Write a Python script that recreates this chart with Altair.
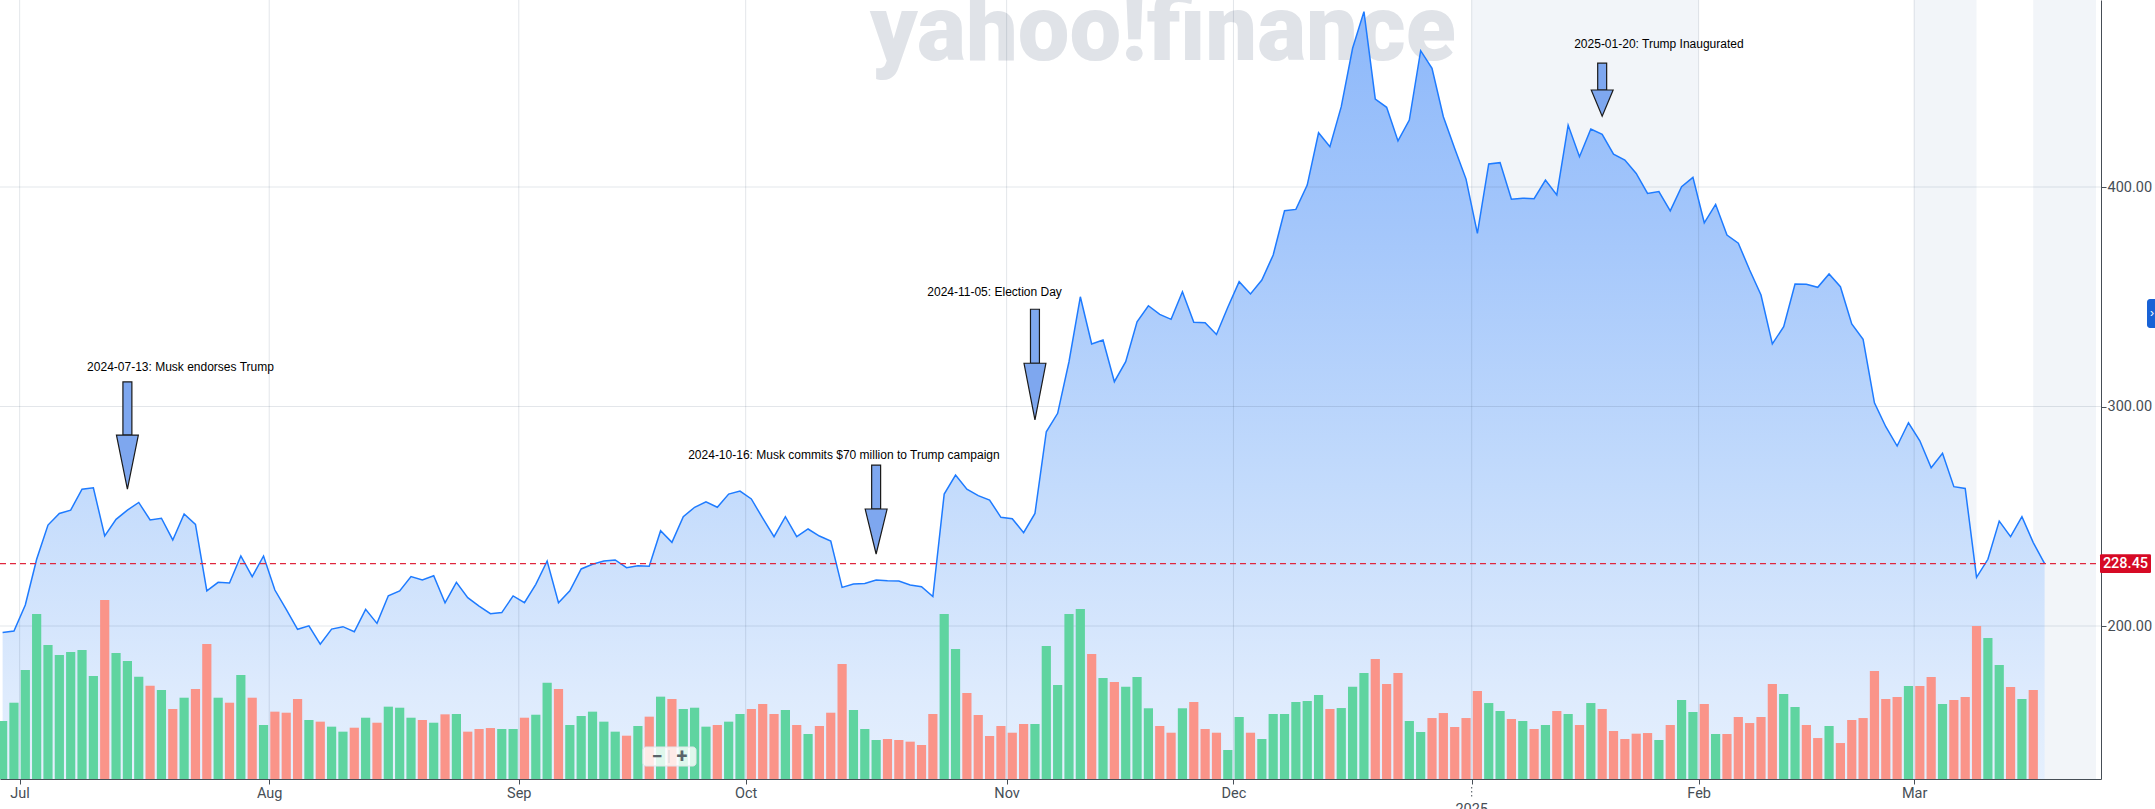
import altair as alt
import pandas as pd

# ---------------- data ----------------
holidays = ["2024-07-04", "2024-09-02", "2024-11-28", "2024-12-25",
            "2025-01-01", "2025-01-09", "2025-01-20", "2025-02-17"]
sessions = [d for d in pd.bdate_range("2024-06-27", "2025-03-18")
            if d.strftime("%Y-%m-%d") not in holidays]

close = [197.0, 197.7, 209.6, 230.4, 246.0, 251.3, 252.8, 262.3, 263.0, 241.0,
         248.6, 252.8, 256.3, 248.3, 249.1, 239.2, 251.0, 246.3, 216.0, 219.9,
         219.6, 231.9, 222.5, 231.9, 216.4, 207.6, 198.5, 200.1, 191.7, 198.6,
         199.7, 197.4, 207.6, 201.2, 213.8, 216.0, 222.5, 221.0, 222.9, 210.6,
         219.9, 212.9, 209.1, 205.6, 206.1, 213.7, 210.6, 219.0, 229.6, 210.6,
         216.0, 226.0, 228.1, 229.6, 230.1, 226.6, 227.5, 227.2, 243.4, 238.1,
         249.8, 254.1, 256.6, 254.1, 260.1, 261.5, 257.9, 249.1, 240.7, 249.8,
         240.7, 244.2, 241.0, 238.7, 217.6, 219.1, 219.4, 221.0, 220.6, 220.5,
         218.7, 217.9, 213.4, 260.1, 268.8, 262.3, 259.4, 257.4, 249.5, 248.9,
         242.5, 251.3, 288.5, 296.9, 320.4, 350.0, 328.5, 330.3, 311.3, 320.4,
         338.6, 345.9, 342.0, 339.7, 352.3, 338.4, 338.2, 332.8, 345.2, 356.9,
         351.3, 357.6, 369.0, 389.2, 389.8, 400.9, 424.7, 418.4, 436.6, 463.2,
         479.9, 440.1, 436.3, 421.0, 430.5, 462.1, 454.1, 432.0, 417.6, 403.6,
         378.9, 410.5, 411.1, 394.4, 394.9, 394.7, 403.2, 396.4, 428.2, 413.8,
         426.4, 424.0, 415.0, 412.3, 406.2, 397.1, 397.9, 389.1, 400.1, 404.4,
         383.7, 392.1, 378.1, 374.4, 362.2, 350.8, 328.5, 336.4, 355.8, 355.7,
         354.3, 360.4, 354.6, 337.6, 330.6, 301.7, 290.8, 282.0, 292.6, 284.4,
         272.1, 278.7, 263.5, 262.7, 222.2, 230.4, 247.8, 240.7, 249.8, 238.0,
         228.45]

volume_m = [71.9, 94.6, 135.2, 204.6, 166.2, 153.8, 157.5, 160.0, 127.7, 222.0,
            156.2, 146.3, 126.9, 115.7, 110.4, 86.8, 100.8, 111.6, 167.4, 100.8,
            94.6, 129.0, 100.8, 67.0, 83.5, 82.2, 99.2, 73.2, 71.1, 64.9,
            58.7, 63.6, 76.0, 69.8, 89.7, 88.4, 76.0, 73.2, 69.8, 80.2,
            80.6, 58.7, 62.0, 63.2, 62.0, 62.0, 76.0, 79.7, 119.4, 111.6,
            67.0, 78.1, 83.5, 71.1, 58.7, 53.7, 65.7, 77.3, 102.1, 99.2,
            86.8, 88.4, 64.9, 67.0, 71.1, 80.6, 86.8, 93.0, 80.6, 85.6,
            67.0, 55.8, 65.7, 82.2, 142.6, 85.6, 62.0, 48.4, 49.6, 48.4,
            46.3, 42.2, 80.6, 204.6, 161.2, 106.6, 79.4, 53.3, 65.7, 57.4,
            68.2, 68.2, 164.9, 116.6, 204.6, 210.8, 155.0, 125.2, 120.3, 114.5,
            126.5, 87.7, 65.7, 57.4, 87.7, 95.5, 62.0, 57.4, 36.0, 76.9,
            57.4, 49.6, 80.6, 80.6, 95.5, 96.7, 104.2, 86.8, 88.0, 114.5,
            131.4, 148.8, 117.8, 131.4, 71.9, 58.3, 75.6, 81.8, 64.5, 75.6,
            109.1, 94.2, 84.3, 74.4, 71.9, 62.0, 67.0, 84.3, 80.6, 67.0,
            94.2, 86.8, 59.5, 49.6, 56.2, 57.0, 48.4, 67.0, 98.0, 83.1,
            93.0, 55.8, 55.8, 76.9, 69.4, 76.9, 117.8, 105.4, 89.3, 67.0,
            50.8, 65.7, 44.6, 73.2, 75.6, 133.9, 99.2, 101.7, 115.3, 115.3,
            126.5, 93.0, 98.0, 101.7, 189.7, 174.8, 141.4, 114.1, 99.2, 110.4]

price_ticks = [200, 300, 400]

event_text = ["2024-07-13: Musk endorses Trump",
              "2024-10-16: Musk commits $70 million to Trump campaign",
              "2024-11-05: Election Day",
              "2025-01-20: Trump Inaugurated"]
event_session = ["2024-07-15", "2024-10-16", "2024-11-05", "2025-01-21"]
arrow_tail = [311.2, 273.3, 344.3, 456.4]
arrow_neck = [287.0, 253.3, 319.7, 444.2]
arrow_tip = [262.4, 232.8, 293.9, 432.3]
label_price = [318.0, 277.9, 352.2, 465.3]
label_shift = [4.68, -2.84, -3.56, 5.0]   # in sessions, relative to the arrow

# shaded background periods (session units)
shade_from = [127.5, 166.5, 177.0]
shade_to = [147.5, 172.0, 182.53]

# ---------------- layout / style ----------------
W, H = 2101, 779
X_MIN, X_MAX = -1.7896, 182.53
P_MIN, P_MAX = 130.3, 485.2
V_MAX = 966
AXIS_COL = "#464e56"
GRID_COL = "rgba(40,60,90,0.13)"
LINE_COL = "#1e7bff"
UP_COL, DOWN_COL = "#5fd4a0", "#fa9489"

offset = 2  # first two sessions are in late June
sess_str = [d.strftime("%Y-%m-%d") for d in sessions]
k_of = {s: i - offset for i, s in enumerate(sess_str)}

price_df = pd.DataFrame({"k": [i - offset for i in range(len(close))], "close": close})
cols = []
for i in range(len(volume_m)):
    up = True if i == 0 else close[i] >= close[i - 1]
    cols.append(UP_COL if up else DOWN_COL)
vol_df = pd.DataFrame({"k": [i - offset for i in range(len(volume_m))],
                       "vol": volume_m, "col": cols})

tick_pos, tick_lab = [], []
prev_m = sessions[0].month
for i, d in enumerate(sessions):
    if d.month != prev_m:
        tick_pos.append(i - offset - 0.5)
        tick_lab.append("" if d.month == 1 else d.strftime("%b"))
    prev_m = d.month
year_pos = [p for p, l in zip(tick_pos, tick_lab) if l == ""]
ticks_df = pd.DataFrame({"pos": tick_pos})
year_df = pd.DataFrame({"pos": year_pos, "t": ["2025"] * len(year_pos)})

label_expr = ("[" + ",".join("'%s'" % l for l in tick_lab) + "][indexof([" +
              ",".join(repr(p) for p in tick_pos) + "], datum.value)]")

x_scale = alt.Scale(domain=[X_MIN, X_MAX], nice=False, zero=False)
p_scale = alt.Scale(domain=[P_MIN, P_MAX], nice=False, zero=False)
v_scale = alt.Scale(domain=[0, V_MAX], nice=False)

x_axis = alt.Axis(values=tick_pos, labelExpr=label_expr, grid=False, title=None,
                  domainColor=AXIS_COL, tickColor=AXIS_COL, tickSize=5,
                  labelFont="Roboto", labelFontSize=14.5, labelColor=AXIS_COL,
                  labelPadding=2, labelFlush=False, labelOverlap=False)
y_axis = alt.Axis(orient="right", values=price_ticks, format=".2f", grid=False, title=None,
                  domainColor=AXIS_COL, tickColor=AXIS_COL, tickSize=5,
                  labelFont="Roboto", labelFontSize=14.5, labelColor=AXIS_COL,
                  labelPadding=1)


def X(field):
    return alt.X(field, type="quantitative", scale=x_scale, axis=x_axis)


def PY(field, axis=None):
    return alt.Y(field, type="quantitative", scale=p_scale, axis=axis)


bands = alt.Chart(pd.DataFrame({"x0": shade_from, "x1": shade_to})).mark_rect(
    color="#f2f5f9", clip=True).encode(x=X("x0"), x2="x1", y=alt.value(0), y2=alt.value(H))

watermark = alt.Chart(pd.DataFrame({"t": ["yahoo!finance"]})).mark_text(
    font="Roboto", fontWeight=900, fontSize=92, color="#e0e3e8",
    align="center", baseline="alphabetic").encode(
    x=alt.value(1163), y=alt.value(60), text="t:N")

grad = alt.Gradient(gradient="linear",
                    stops=[alt.GradientStop(color="#8db8fa", offset=0),
                           alt.GradientStop(color="#a3c6fb", offset=0.2),
                           alt.GradientStop(color="#c3dbfc", offset=0.45),
                           alt.GradientStop(color="#deebfd", offset=0.65),
                           alt.GradientStop(color="#ebf4fe", offset=0.8),
                           alt.GradientStop(color="#f7fbff", offset=1)],
                    x1=0, x2=0, y1=0, y2=1)
area = alt.Chart(price_df).mark_area(clip=True, fill=grad, opacity=1).encode(
    x=X("k"), y=PY("close"), y2=alt.value(H))

vgrid = alt.Chart(ticks_df).mark_rule(color=GRID_COL, strokeWidth=1).encode(
    x=X("pos"), y=alt.value(0), y2=alt.value(H))
hgrid = alt.Chart(pd.DataFrame({"p": price_ticks})).mark_rule(color=GRID_COL, strokeWidth=1).encode(
    y=PY("p"), x=alt.value(0), x2=alt.value(W))

bars = alt.Chart(vol_df).mark_bar(size=9.2, clip=True).encode(
    x=X("k"), y=alt.Y("vol:Q", scale=v_scale, axis=None),
    color=alt.Color("col:N", scale=None))

line = alt.Chart(price_df).mark_line(clip=True, color=LINE_COL, strokeWidth=1.5).encode(
    x=X("k"), y=PY("close", y_axis))

last_df = price_df.tail(1)
ref = alt.Chart(last_df).mark_rule(color="#e0283f", strokeDash=[6, 4], strokeWidth=1.3).encode(
    y=PY("close"), x=alt.value(0), x2=alt.value(W))

# arrows
SH, HH = 0.395, 0.965
shaft_rows, head_rows, lab_rows = [], [], []
for i, s in enumerate(event_session):
    k = k_of[s]
    shaft_rows += [{"id": i, "y": arrow_tail[i], "xl": k - SH, "xr": k + SH},
                   {"id": i, "y": arrow_neck[i], "xl": k - SH, "xr": k + SH}]
    head_rows += [{"id": i, "y": arrow_neck[i], "xl": k - HH, "xr": k + HH},
                  {"id": i, "y": arrow_tip[i], "xl": k, "xr": k}]
    lab_rows.append({"lx": k + label_shift[i], "ly": label_price[i], "txt": event_text[i]})

shafts = alt.Chart(pd.DataFrame(shaft_rows)).mark_area(
    orient="horizontal", fill="#7ea7ef", stroke="#1a1a1a", strokeWidth=1.2, opacity=1).encode(
    y=PY("y"), x=X("xl"), x2="xr", detail="id:N")
heads = alt.Chart(pd.DataFrame(head_rows)).mark_area(
    orient="horizontal", fill="#7ea7ef", stroke="#1a1a1a", strokeWidth=1.2, opacity=1).encode(
    y=PY("y"), x=X("xl"), x2="xr", detail="id:N")
labels = alt.Chart(pd.DataFrame(lab_rows)).mark_text(
    font="Liberation Sans", fontSize=12, color="#000000", align="center", baseline="middle").encode(
    x=X("lx"), y=PY("ly"), text="txt:N")

tag_shape = ("M-0.95,-0.37 Q-1,-0.37 -1,-0.32 L-1,0.32 Q-1,0.37 -0.95,0.37 "
             "L0.95,0.37 Q1,0.37 1,0.32 L1,-0.32 Q1,-0.37 0.95,-0.37 Z")
tagbox = alt.Chart(last_df).mark_point(shape=tag_shape, size=2601, filled=True,
                                       color="#d60a25", opacity=1, strokeWidth=0).encode(
    x=alt.value(W + 24.5), y=PY("close"))
tagtext = alt.Chart(last_df).mark_text(color="white", fontSize=14.5, font="Roboto",
                                       fontWeight=500, align="center", baseline="middle").encode(
    x=alt.value(W + 24.5), y=PY("close"), text=alt.Text("close:Q", format=".2f"))

yr_dots = alt.Chart(year_df).mark_rule(color=AXIS_COL, strokeDash=[1.5, 2.5], strokeWidth=1).encode(
    x=X("pos"), y=alt.value(H + 8), y2=alt.value(H + 19))
yr_text = alt.Chart(year_df).mark_text(font="Roboto", fontSize=14.5, color=AXIS_COL,
                                       align="center", baseline="top").encode(
    x=X("pos"), y=alt.value(H + 24), text="t:N")

btn_box = alt.Chart(pd.DataFrame({"a": [0]})).mark_rect(
    fill="white", fillOpacity=0.8, stroke="#e3e6ea", cornerRadius=3).encode(
    x=alt.value(643), x2=alt.value(696), y=alt.value(747), y2=alt.value(766))
btn_sep = alt.Chart(pd.DataFrame({"a": [0]})).mark_rule(color="#d2d6da").encode(
    x=alt.value(669), y=alt.value(750), y2=alt.value(763))
btn_txt = alt.Chart(pd.DataFrame({"t": ["\u2212", "+"], "px": [657, 682]})).mark_text(
    font="Roboto", fontSize=20, fontWeight="bold", color="#5b636a",
    align="center", baseline="middle").encode(
    x=alt.X("px:Q", scale=None), y=alt.value(756.5), text="t:N")

tab = alt.Chart(pd.DataFrame({"a": [0]})).mark_rect(fill="#1862d6", cornerRadius=3).encode(
    x=alt.value(W + 46), x2=alt.value(W + 62), y=alt.value(299), y2=alt.value(328))
tab_t = alt.Chart(pd.DataFrame({"t": ["\u203a"]})).mark_text(
    color="white", fontSize=12, align="center", baseline="middle").encode(
    x=alt.value(W + 51), y=alt.value(313), text="t:N")

chart = alt.layer(
    bands, watermark, area, vgrid, hgrid, bars, line, ref, shafts, heads, labels,
    tagbox, tagtext, yr_dots, yr_text, btn_box, btn_sep, btn_txt, tab, tab_t
).resolve_scale(y="independent").properties(
    width=W, height=H,
    padding={"left": 0, "top": 0, "right": 54, "bottom": 30},
    autosize=alt.AutoSizeParams(type="none"),
    background="white",
).configure_view(stroke=None)

chart.save("out.html", embed_options={"renderer": "svg", "actions": False})
